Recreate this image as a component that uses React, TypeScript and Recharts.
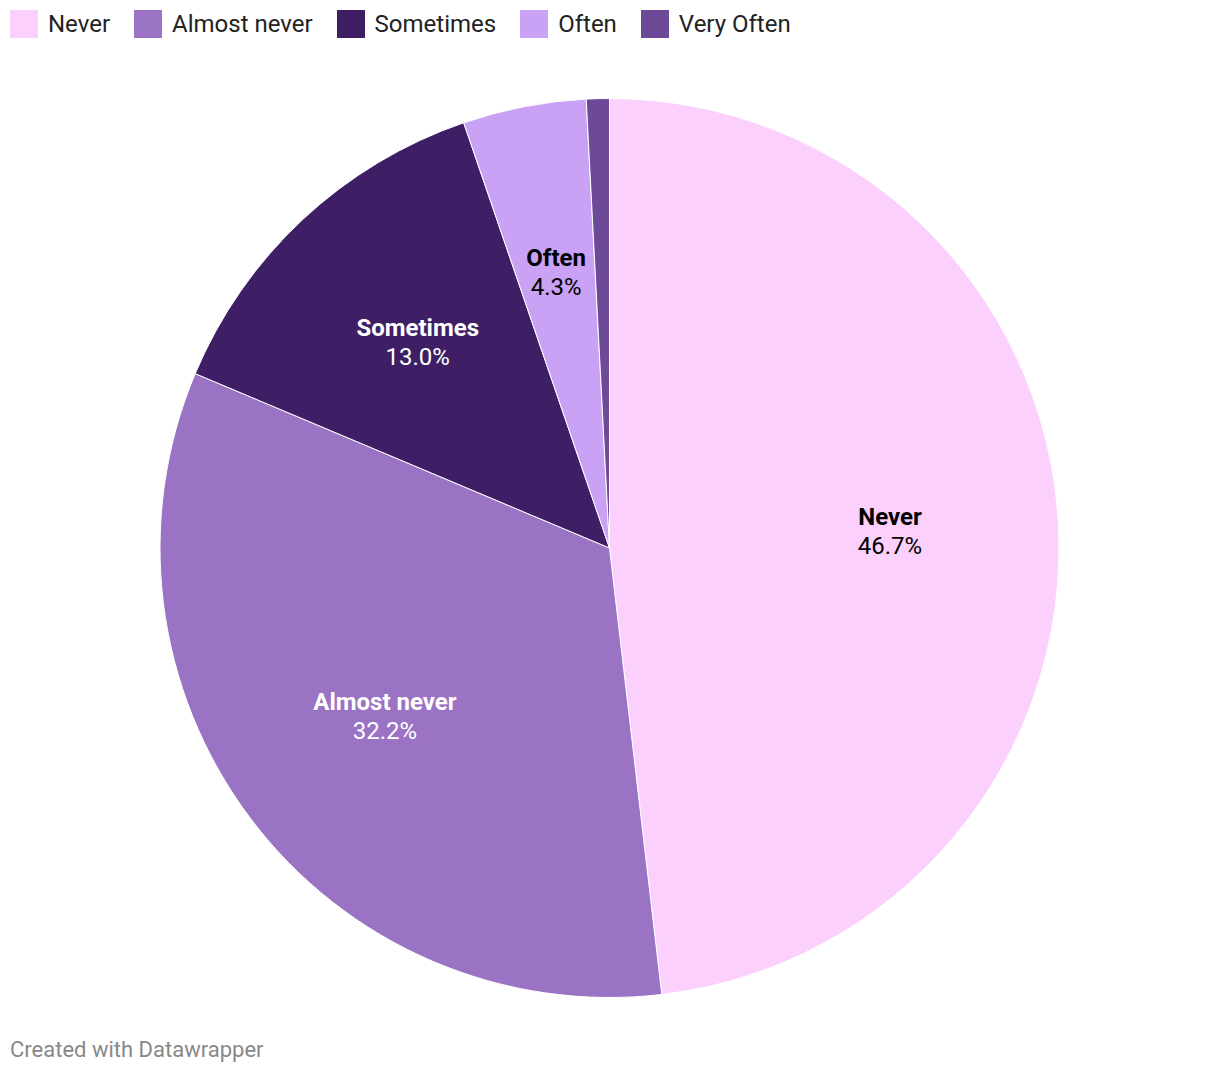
import { PieChart, Pie, Cell } from "recharts";

const categories = ["Never", "Almost never", "Sometimes", "Often", "Very Often"];
const shares = [46.7, 32.2, 13.0, 4.3, 0.8];
const sliceColors = ["#fbd0fd", "#9b73c5", "#3e1f66", "#c9a2f5", "#6c4a98"];
const labelColors = ["#000000", "#ffffff", "#ffffff", "#000000", "#ffffff"];
const hiddenLabels = ["Very Often"];

const data = categories.map((name, i) => ({ name, value: shares[i] }));

const FONT = "Roboto, 'Noto Sans', sans-serif";
const RAD = Math.PI / 180;

// name in bold over the share, at about 5/8 of the radius
const renderLabel = (props: any) => {
  const { cx, cy, midAngle, outerRadius, index, name, value } = props;
  if (hiddenLabels.includes(name)) return null;
  const r = outerRadius * 0.625;
  const x = cx + r * Math.cos(-midAngle * RAD);
  const y = cy + r * Math.sin(-midAngle * RAD);
  const color = labelColors[index];
  return (
    <g>
      <text
        x={x}
        y={y - 14.5}
        textAnchor="middle"
        dominantBaseline="central"
        fill={color}
        fontFamily={FONT}
        fontSize={24}
        fontWeight={700}
      >
        {name}
      </text>
      <text
        x={x}
        y={y + 14.5}
        textAnchor="middle"
        dominantBaseline="central"
        fill={color}
        fontFamily={FONT}
        fontSize={24}
      >
        {value.toFixed(1)}%
      </text>
    </g>
  );
};

export default function App() {
  return (
    <div
      style={{
        position: "absolute",
        left: 0,
        top: 0,
        width: 1220,
        height: 1074,
        background: "#ffffff",
        fontFamily: FONT,
      }}
    >
      <div
        style={{
          position: "absolute",
          left: 10,
          top: 10,
          display: "flex",
          alignItems: "center",
          gap: 24,
        }}
      >
        {categories.map((c, i) => (
          <div key={c} style={{ display: "flex", alignItems: "center", gap: 10 }}>
            <span
              style={{ width: 28, height: 28, background: sliceColors[i], display: "inline-block" }}
            />
            <span style={{ fontSize: 24, color: "#222", lineHeight: "28px" }}>{c}</span>
          </div>
        ))}
      </div>

      <PieChart
        width={1220}
        height={1074}
        margin={{ top: 0, right: 0, bottom: 0, left: 0 }}
        style={{ position: "absolute", left: 0, top: 0 }}
      >
        <Pie
          data={data}
          dataKey="value"
          nameKey="name"
          cx={609.5}
          cy={548}
          outerRadius={449.5}
          startAngle={90}
          endAngle={-270}
          stroke="#ffffff"
          strokeWidth={1}
          label={renderLabel}
          labelLine={false}
          isAnimationActive={false}
        >
          {data.map((d, i) => (
            <Cell key={d.name} fill={sliceColors[i]} />
          ))}
        </Pie>
      </PieChart>

      <div
        style={{
          position: "absolute",
          left: 10,
          top: 1036,
          fontSize: 22,
          color: "#888888",
          lineHeight: "28px",
        }}
      >
        Created with Datawrapper
      </div>
    </div>
  );
}
